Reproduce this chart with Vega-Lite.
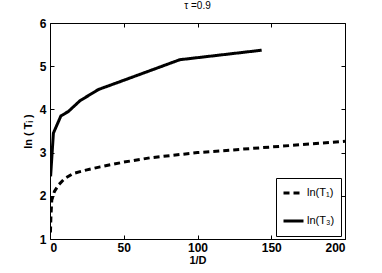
{
  "$schema": "https://vega.github.io/schema/vega-lite/v6.json",
  "width": 295,
  "height": 216,
  "autosize": {"type": "none"},
  "padding": {"left": 50, "top": 23, "right": 37, "bottom": 34},
  "background": "white",
  "title": {"text": "τ =0.9", "fontSize": 10, "fontWeight": "normal", "font": "Liberation Sans", "color": "black", "offset": 6},
  "data": {
    "values": [
      {"x": 0.3, "y": 1.15, "s": "ln(T₁)"},
      {"x": 0.6, "y": 1.5, "s": "ln(T₁)"},
      {"x": 1.2, "y": 1.9, "s": "ln(T₁)"},
      {"x": 3, "y": 2.1, "s": "ln(T₁)"},
      {"x": 6, "y": 2.26, "s": "ln(T₁)"},
      {"x": 10, "y": 2.4, "s": "ln(T₁)"},
      {"x": 16, "y": 2.52, "s": "ln(T₁)"},
      {"x": 25, "y": 2.6, "s": "ln(T₁)"},
      {"x": 34, "y": 2.67, "s": "ln(T₁)"},
      {"x": 50, "y": 2.78, "s": "ln(T₁)"},
      {"x": 68, "y": 2.88, "s": "ln(T₁)"},
      {"x": 100, "y": 3.0, "s": "ln(T₁)"},
      {"x": 150, "y": 3.13, "s": "ln(T₁)"},
      {"x": 200, "y": 3.26, "s": "ln(T₁)"},
      {"x": 0.4, "y": 2.45, "s": "ln(T₃)"},
      {"x": 2.3, "y": 3.45, "s": "ln(T₃)"},
      {"x": 7.4, "y": 3.85, "s": "ln(T₃)"},
      {"x": 12.4, "y": 3.95, "s": "ln(T₃)"},
      {"x": 20.3, "y": 4.2, "s": "ln(T₃)"},
      {"x": 32.8, "y": 4.46, "s": "ln(T₃)"},
      {"x": 49.7, "y": 4.67, "s": "ln(T₃)"},
      {"x": 88, "y": 5.15, "s": "ln(T₃)"},
      {"x": 143.5, "y": 5.37, "s": "ln(T₃)"}
    ]
  },
  "layer": [
    {
      "mark": {"type": "line", "color": "black", "strokeWidth": 3, "clip": true},
      "encoding": {
        "x": {"field": "x", "type": "quantitative", "scale": {"domain": [0, 200], "nice": false, "zero": false},
              "axis": {"title": "1/D", "values": [0, 50, 100, 150, 200], "orient": "bottom"}},
        "y": {"field": "y", "type": "quantitative", "scale": {"domain": [1, 6], "nice": false, "zero": false},
              "axis": {"title": "ln ( Tᵢ )", "values": [1, 2, 3, 4, 5, 6], "orient": "left"}},
        "strokeDash": {"field": "s", "type": "nominal",
                       "scale": {"domain": ["ln(T₁)", "ln(T₃)"], "range": [[6, 4], [1, 0]]},
                       "legend": {"title": null}},
        "detail": {"field": "s"}
      }
    },
    {
      "mark": {"type": "line", "strokeOpacity": 0},
      "encoding": {
        "x": {"field": "x", "type": "quantitative",
              "axis": {"title": null, "labels": false, "values": [0, 50, 100, 150, 200], "orient": "top"}},
        "y": {"field": "y", "type": "quantitative",
              "axis": {"title": null, "labels": false, "values": [1, 2, 3, 4, 5, 6], "orient": "right"}},
        "detail": {"field": "s"}
      }
    }
  ],
  "resolve": {"axis": {"x": "independent", "y": "independent"}},
  "config": {
    "view": {"stroke": "black", "strokeWidth": 1},
    "axis": {
      "domain": false,
      "grid": false,
      "tickColor": "black",
      "tickSize": -4,
      "tickWidth": 1,
      "labelFont": "Liberation Sans",
      "labelFontWeight": "bold",
      "labelFontSize": 12,
      "labelColor": "black",
      "labelPadding": 8,
      "titleFont": "Liberation Sans",
      "titleFontWeight": "bold",
      "titleFontSize": 11,
      "titleColor": "black"
    },
    "axisBottom": {"titlePadding": 1, "labelPadding": 7},
    "axisLeft": {"titlePadding": 6},
    "legend": {
      "orient": "none",
      "legendX": 226,
      "legendY": 155,
      "padding": 6,
      "strokeColor": "black",
      "fillColor": "white",
      "symbolType": "stroke",
      "symbolSize": 400,
      "symbolStrokeWidth": 3,
      "symbolStrokeColor": "black",
      "labelFont": "Liberation Sans",
      "labelFontSize": 11,
      "labelColor": "black",
      "clipHeight": 18,
      "rowPadding": 10,
      "labelOffset": 2
    }
  }
}
